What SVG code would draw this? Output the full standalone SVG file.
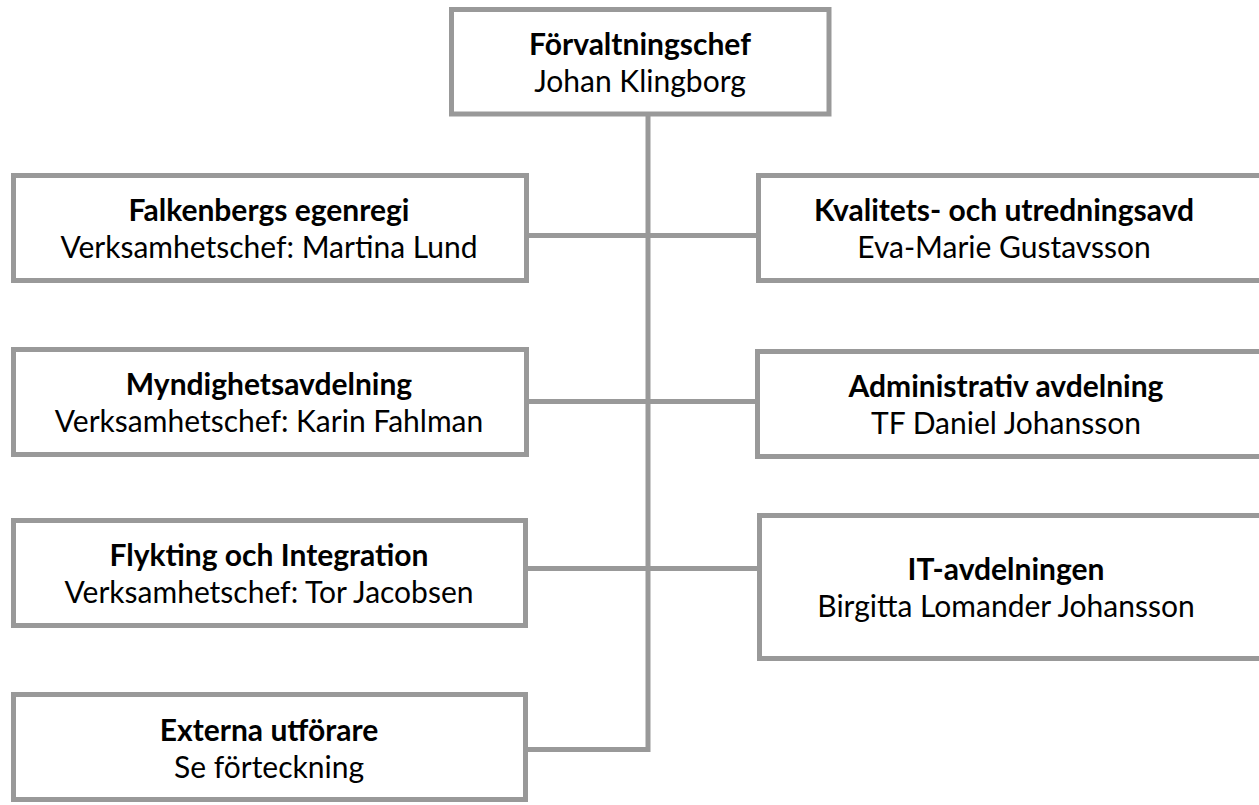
<svg xmlns="http://www.w3.org/2000/svg" width="1259" height="805" viewBox="0 0 1259 805">
<style>
.box{fill:#ffffff;stroke:#999999;stroke-width:5}
.con{fill:none;stroke:#999999;stroke-width:5;stroke-linejoin:miter;stroke-linecap:butt}
text{font-family:Lato,"Liberation Sans",sans-serif;font-size:30px;fill:#000000;text-anchor:middle}
.b{font-weight:bold}
</style>
<rect x="0" y="0" width="1259" height="805" fill="#ffffff"/>
<g id="connectors">
<polyline class="con" points="648,114 648,749.5 526,749.5"/>
<line class="con" x1="526" y1="235.5" x2="758.5" y2="235.5"/>
<line class="con" x1="526" y1="401.5" x2="758.5" y2="401.5"/>
<line class="con" x1="526" y1="568.5" x2="759.5" y2="568.5"/>
</g>
<g id="forvaltningschef">
<rect class="box" x="451.5" y="9.5" width="377.5" height="104.5"/>
<text class="b" x="640" y="54.5">Förvaltningschef</text>
<text x="640" y="92">Johan Klingborg</text>
</g>
<g id="falkenbergs">
<rect class="box" x="13.5" y="175.5" width="513" height="105"/>
<text class="b" x="269" y="220.5">Falkenbergs egenregi</text>
<text x="269" y="258">Verksamhetschef: Martina Lund</text>
</g>
<g id="myndighet">
<rect class="box" x="13.5" y="349.5" width="513" height="105"/>
<text class="b" x="269" y="394.5">Myndighetsavdelning</text>
<text x="269" y="432">Verksamhetschef: Karin Fahlman</text>
</g>
<g id="flykting">
<rect class="box" x="13.5" y="520.5" width="512" height="105"/>
<text class="b" x="269" y="565.5">Flykting och Integration</text>
<text x="269" y="603">Verksamhetschef: Tor Jacobsen</text>
</g>
<g id="externa">
<rect class="box" x="13.5" y="694.5" width="512" height="105"/>
<text class="b" x="269" y="740.5">Externa utförare</text>
<text x="269" y="778">Se förteckning</text>
</g>
<g id="kvalitet">
<rect class="box" x="758.5" y="175.5" width="510" height="105"/>
<text class="b" x="1004" y="220.5">Kvalitets- och utredningsavd</text>
<text x="1004" y="258">Eva-Marie Gustavsson</text>
</g>
<g id="administrativ">
<rect class="box" x="757.5" y="351.5" width="510" height="105"/>
<text class="b" x="1006" y="396.5">Administrativ avdelning</text>
<text x="1006" y="434">TF Daniel Johansson</text>
</g>
<g id="it">
<rect class="box" x="759.5" y="515.5" width="510" height="143"/>
<text class="b" x="1006" y="579.5">IT-avdelningen</text>
<text x="1006" y="617">Birgitta Lomander Johansson</text>
</g>
</svg>
